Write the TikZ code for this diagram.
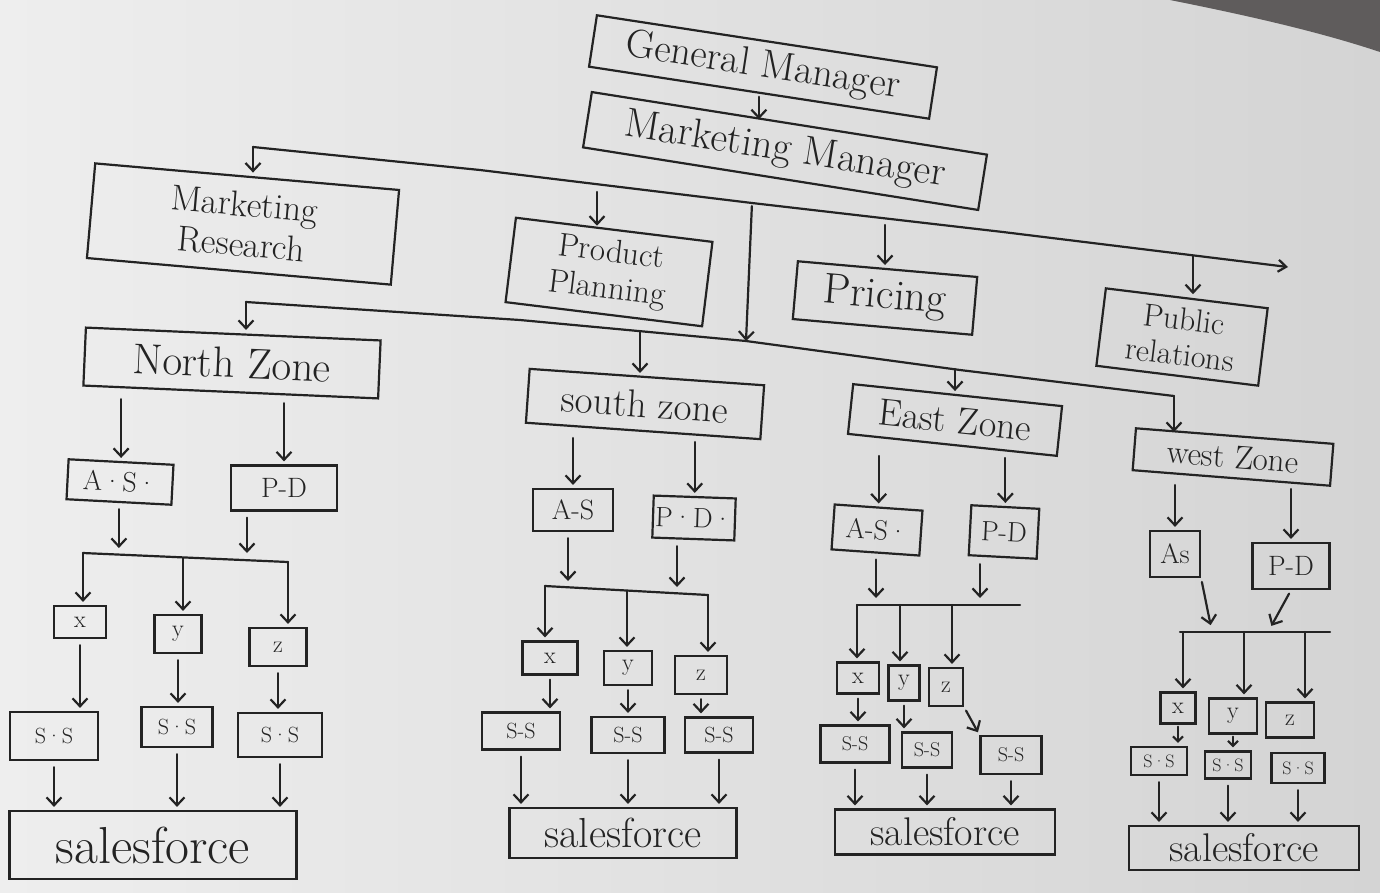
\documentclass[tikz,border=0pt]{standalone}
\usetikzlibrary{arrows.meta}
\definecolor{ink}{RGB}{35,35,35}
\definecolor{paperL}{RGB}{238,238,238}
\definecolor{paperR}{RGB}{212,212,212}
\definecolor{cloth}{RGB}{95,92,92}
\newcommand\hfs[2]{\fontsize{#1}{#2}\selectfont}
\begin{document}
\begin{tikzpicture}[x=1pt,y=-1pt,
  box/.style={draw=ink, line width=2.2pt, text=ink, inner sep=1pt, align=center},
  sbox/.style={box, font=\hfs{28}{30}},
  xbox/.style={box, font=\hfs{24}{26}},
  ssbox/.style={box, font=\hfs{22}{24}},
  arr/.style={draw=ink, line width=2.2pt, line cap=round, -{Straight Barb[length=8pt,width=15pt]}, shorten <=6pt, shorten >=3pt},
  arr0/.style={arr, shorten <=0pt},
  tobar/.style={arr, shorten >=7pt},
  ln/.style={draw=ink, line width=2.2pt, line cap=round, line join=round}]
\useasboundingbox (0,0) rectangle (1380,892);
\shade[left color=paperL, right color=paperR] (0,0) rectangle (1380,892);
\fill[cloth] (1170,0) .. controls (1250,16) and (1320,32) .. (1380,52) -- (1380,0) -- cycle;

% ---------- top levels ----------
\node[box, minimum width=344pt, minimum height=52pt, rotate=-8.7, font=\hfs{40}{44}] (gm) at (763,67) {General Manager};
\node[box, minimum width=400pt, minimum height=56pt, rotate=-9, font=\hfs{41}{44}] (mm) at (785,151) {Marketing Manager};
\draw[arr, shorten <=3pt] (gm.south) -- (gm.south |- mm.north);

\node[box, minimum width=305pt, minimum height=95pt, rotate=-5, font=\hfs{36}{40}] (mr) at (243,224) {Marketing\\Research};
\node[box, minimum width=198pt, minimum height=85pt, rotate=-7, font=\hfs{33}{37}] (pp) at (609,272) {Product\\Planning};
\node[box, minimum width=180pt, minimum height=58pt, rotate=-5, font=\hfs{43}{46}] (pr) at (885,298) {Pricing};
\node[box, minimum width=163pt, minimum height=78pt, rotate=-7, font=\hfs{32}{35}] (pub) at (1182,337) {Public\\relations};

\coordinate (l0) at (253,147);
\coordinate (l1) at (480,170);
\coordinate (l2) at (752,203);
\coordinate (l3) at (1003,232);
\coordinate (l4) at (1288,267);
\draw[ln, -{Straight Barb[length=8pt,width=12pt]}] (l0) -- (l1) -- (l2) -- (l3) -- (l4);
\draw[arr0] (l0) -- (l0 |- mr.north);
\coordinate (tpp) at (597,186);
\coordinate (tpr) at (885,219);
\coordinate (tpub) at (1193,256);
\draw[arr] (tpp) -- (tpp |- pp.north);
\draw[arr] (tpr) -- (tpr |- pr.north);
\draw[arr0] (tpub) -- (tpub |- pub.north);

% ---------- zones ----------
\coordinate (z0) at (246,302);
\coordinate (z1) at (520,320);
\coordinate (z2) at (746,341);
\coordinate (z3) at (960,370);
\coordinate (z4) at (1174,396);
\draw[ln] (z0) -- (z1) -- (z2) -- (z3) -- (z4);
\draw[arr, shorten <=3pt, shorten >=0pt] (l2) -- (z2);

\node[box, minimum width=295pt, minimum height=58pt, rotate=-2.5, font=\hfs{43}{46}] (nz) at (232,363) {North Zone};
\node[box, minimum width=235pt, minimum height=54pt, rotate=-4, font=\hfs{39}{42}] (sz) at (645,404) {south zone};
\node[box, minimum width=210pt, minimum height=50pt, rotate=-6, font=\hfs{38}{42}] (ez) at (955,420) {East Zone};
\node[box, minimum width=198pt, minimum height=42pt, rotate=-4.5, font=\hfs{33}{36}] (wz) at (1233,457) {west Zone};

\coordinate (zs) at (640,331);
\coordinate (ze) at (955,369);
\draw[arr0] (z0) -- (z0 |- nz.north);
\draw[arr0] (zs) -- (zs |- sz.north);
\draw[arr0] (ze) -- (ze |- ez.north);
\draw[arr0] (z4) -- (z4 |- wz.north);

% ---------- North zone ----------
\node[sbox, minimum width=105pt, minimum height=40pt, rotate=-3] (as1) at (120,482) {A·S·};
\node[sbox, minimum width=106pt, minimum height=45pt] (pd1) at (284,488) {P-D};
\draw[arr] (as1.north |- nz.south) -- (as1.north);
\draw[arr, shorten <=10pt] (pd1.north |- nz.south) -- (pd1.north);
\coordinate (nb0) at (83,553);
\coordinate (nb1) at (288,562);
\coordinate (nbA) at (120,555);
\coordinate (nbP) at (247,560);
\coordinate (nbY) at (183,558);
\draw[ln] (nb0) -- (nb1);
\draw[tobar] (as1.south) -- (as1.south |- nbA);
\draw[tobar] (pd1.south -| nbP) -- (nbP);
\node[xbox, minimum width=52pt, minimum height=32pt] (x1) at (80,622) {x};
\node[xbox, minimum width=47pt, minimum height=38pt] (y1) at (178,634) {y};
\node[xbox, minimum width=57pt, minimum height=38pt] (z1) at (278,647) {z};
\draw[arr0] (nb0) -- (nb0 |- x1.north);
\draw[arr0] (nbY) -- (nbY |- y1.north);
\draw[arr0] (nb1) -- (nb1 |- z1.north);
\node[ssbox, minimum width=88pt, minimum height=48pt] (ss1a) at (54,736) {S·S};
\node[ssbox, minimum width=71pt, minimum height=40pt] (ss1b) at (177,727) {S·S};
\node[ssbox, minimum width=84pt, minimum height=44pt] (ss1c) at (280,735) {S·S};
\draw[arr] (x1.south) -- (x1.south |- ss1a.north);
\draw[arr] (y1.south) -- (y1.south |- ss1b.north);
\draw[arr] (z1.south) -- (z1.south |- ss1c.north);
\node[box, minimum width=287pt, minimum height=68pt, font=\hfs{52}{56}] (sf1) at (153,845) {salesforce};
\draw[arr] (ss1a.south) -- (ss1a.south |- sf1.north);
\draw[arr] (ss1b.south) -- (ss1b.south |- sf1.north);
\draw[arr] (ss1c.south) -- (ss1c.south |- sf1.north);

% ---------- South zone ----------
\node[sbox, minimum width=80pt, minimum height=42pt] (as2) at (573,510) {A-S};
\node[sbox, minimum width=82pt, minimum height=42pt, rotate=-2] (pd2) at (694,518) {P·D·};
\draw[arr] (as2.north |- sz.south) -- (as2.north);
\draw[arr, shorten <=10pt] (pd2.north |- sz.south) -- (pd2.north);
\coordinate (sb0) at (545,586);
\coordinate (sb1) at (708,595);
\coordinate (sbA) at (568,588);
\coordinate (sbP) at (677,594);
\coordinate (sbY) at (627,591);
\draw[ln] (sb0) -- (sb1);
\draw[tobar] (as2.south -| sbA) -- (sbA);
\draw[tobar] (pd2.south -| sbP) -- (sbP);
\node[xbox, minimum width=55pt, minimum height=33pt] (x2) at (550,658) {x};
\node[xbox, minimum width=48pt, minimum height=34pt] (y2) at (628,668) {y};
\node[xbox, minimum width=52pt, minimum height=38pt] (z2n) at (701,675) {z};
\draw[arr0] (sb0) -- (sb0 |- x2.north);
\draw[arr0] (sbY) -- (sbY |- y2.north);
\draw[arr0] (sb1) -- (sb1 |- z2n.north);
\node[ssbox, minimum width=78pt, minimum height=37pt] (ss2a) at (521,731) {S-S};
\node[ssbox, minimum width=73pt, minimum height=36pt] (ss2b) at (628,735) {S-S};
\node[ssbox, minimum width=68pt, minimum height=35pt] (ss2c) at (719,735) {S-S};
\draw[arr, shorten <=4pt] (x2.south) -- (x2.south |- ss2a.north);
\draw[arr, shorten <=4pt] (y2.south) -- (y2.south |- ss2b.north);
\draw[arr, shorten <=4pt] (z2n.south) -- (z2n.south |- ss2c.north);
\node[box, minimum width=227pt, minimum height=50pt, font=\hfs{42}{46}] (sf2) at (623,833) {salesforce};
\draw[arr] (ss2a.south) -- (ss2a.south |- sf2.north);
\draw[arr] (ss2b.south) -- (ss2b.south |- sf2.north);
\draw[arr] (ss2c.south) -- (ss2c.south |- sf2.north);

% ---------- East zone ----------
\node[sbox, minimum width=88pt, minimum height=45pt, rotate=-4] (as3) at (877,530) {A-S·};
\node[sbox, minimum width=68pt, minimum height=50pt, rotate=-3] (pd3) at (1004,532) {P-D};
\draw[arr, shorten <=10pt] (as3.north |- ez.south) -- (as3.north);
\draw[arr, shorten <=12pt] (pd3.north |- ez.south) -- (pd3.north);
\coordinate (eb0) at (857,605);
\coordinate (eb1) at (1020,605);
\coordinate (ebA) at (876,605);
\coordinate (ebP) at (980,605);
\coordinate (ebY) at (900,605);
\coordinate (ebZ) at (952,605);
\draw[ln] (eb0) -- (eb1);
\draw[tobar] (as3.south -| ebA) -- (ebA);
\draw[tobar] (pd3.south -| ebP) -- (ebP);
\node[xbox, minimum width=42pt, minimum height=31pt] (x3) at (858,678) {x};
\node[xbox, minimum width=31pt, minimum height=35pt] (y3) at (904,683) {y};
\node[xbox, minimum width=34pt, minimum height=38pt] (z3) at (946,687) {z};
\draw[arr0] (eb0) -- (eb0 |- x3.north);
\draw[arr0] (ebY) -- (ebY |- y3.north);
\draw[arr0] (ebZ) -- (ebZ |- z3.north);
\node[ssbox, font=\hfs{20}{22}, minimum width=69pt, minimum height=37pt] (ss3a) at (855,744) {S-S};
\node[ssbox, font=\hfs{20}{22}, minimum width=50pt, minimum height=35pt] (ss3b) at (927,750) {S-S};
\node[ssbox, font=\hfs{20}{22}, minimum width=61pt, minimum height=38pt] (ss3c) at (1011,755) {S-S};
\draw[arr, shorten <=4pt] (x3.south) -- (x3.south |- ss3a.north);
\draw[arr, shorten <=4pt] (y3.south) -- (y3.south |- ss3b.north);
\draw[arr, shorten <=4pt] (z3.south east) -- (ss3c.north west);
\node[box, minimum width=220pt, minimum height=45pt, font=\hfs{40}{44}] (sf3) at (945,832) {salesforce};
\draw[arr] (ss3a.south) -- (ss3a.south |- sf3.north);
\draw[arr] (ss3b.south) -- (ss3b.south |- sf3.north);
\draw[arr] (ss3c.south) -- (ss3c.south |- sf3.north);

% ---------- West zone ----------
\node[sbox, minimum width=50pt, minimum height=46pt] (as4) at (1175,554) {As};
\node[sbox, minimum width=77pt, minimum height=46pt] (pd4) at (1291,566) {P-D};
\draw[arr] (as4.north |- wz.south) -- (as4.north);
\draw[arr, shorten <=10pt] (pd4.north |- wz.south) -- (pd4.north);
\coordinate (wb0) at (1180,632);
\coordinate (wb1) at (1330,632);
\coordinate (wbA) at (1212,632);
\coordinate (wbP) at (1268,632);
\coordinate (wbX) at (1183,632);
\coordinate (wbY) at (1244,632);
\coordinate (wbZ) at (1305,632);
\draw[ln] (wb0) -- (wb1);
\draw[tobar, shorten <=4pt] (as4.south east) -- (wbA);
\draw[tobar, shorten <=4pt] (pd4.south) -- (wbP);
\node[xbox, minimum width=35pt, minimum height=31pt] (x4) at (1178,708) {x};
\node[xbox, minimum width=48pt, minimum height=35pt] (y4) at (1233,716) {y};
\node[xbox, minimum width=48pt, minimum height=35pt] (z4n) at (1290,720) {z};
\draw[arr0] (wbX) -- (wbX |- x4.north);
\draw[arr0] (wbY) -- (wbY |- y4.north);
\draw[arr0] (wbZ) -- (wbZ |- z4n.north);
\node[ssbox, font=\hfs{18}{20}, minimum width=56pt, minimum height=28pt] (ss4a) at (1159,761) {S·S};
\node[ssbox, font=\hfs{18}{20}, minimum width=46pt, minimum height=27pt] (ss4b) at (1228,765) {S·S};
\node[ssbox, font=\hfs{18}{20}, minimum width=53pt, minimum height=30pt] (ss4c) at (1298,768) {S·S};
\draw[arr, shorten <=2pt, -{Straight Barb[length=5pt,width=10pt]}] (x4.south) -- (x4.south |- ss4a.north);
\draw[arr, shorten <=2pt, -{Straight Barb[length=5pt,width=10pt]}] (y4.south) -- (y4.south |- ss4b.north);
\node[box, minimum width=230pt, minimum height=44pt, font=\hfs{40}{44}] (sf4) at (1244,848) {salesforce};
\draw[arr] (ss4a.south) -- (ss4a.south |- sf4.north);
\draw[arr] (ss4b.south) -- (ss4b.south |- sf4.north);
\draw[arr] (ss4c.south) -- (ss4c.south |- sf4.north);
\end{tikzpicture}
\end{document}
